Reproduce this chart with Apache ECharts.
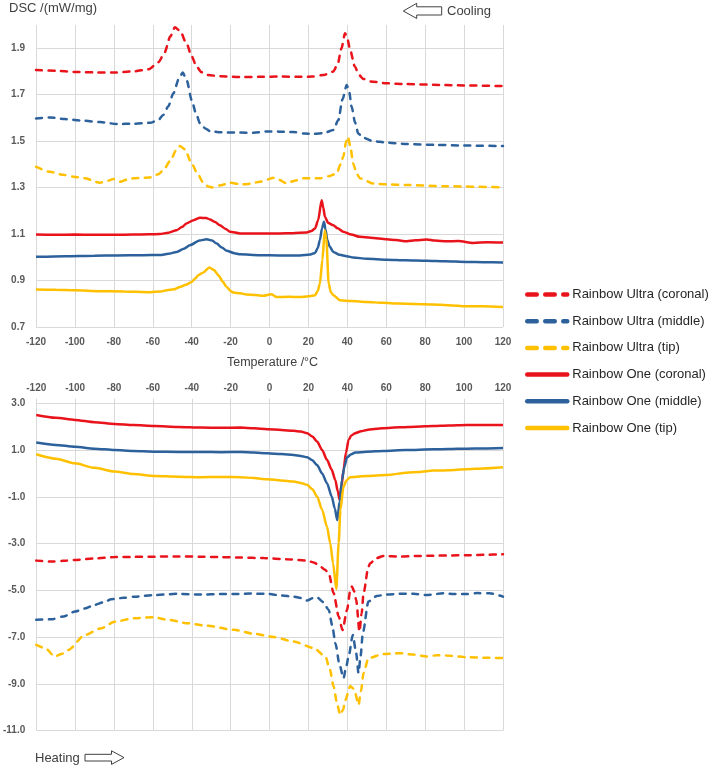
<!DOCTYPE html>
<html>
<head>
<meta charset="utf-8">
<script src="https://cdn.jsdelivr.net/npm/echarts@6/dist/echarts.min.js"></script>
<style>
  html, body { margin: 0; padding: 0; background: #fff; }
  #dsc { width: 709px; height: 768px; }
</style>
</head>
<body>
<div id="dsc"></div>
<script>
// 温度刻度
const tempTicks = [-120, -100, -80, -60, -40, -20, 0, 20, 40, 60, 80, 100, 120];
const seriesNames = ['Rainbow Ultra (coronal)', 'Rainbow Ultra (middle)', 'Rainbow Ultra (tip)',
  'Rainbow One (coronal)', 'Rainbow One (middle)', 'Rainbow One (tip)'];

// cooling (top panel), [T °C, DSC mW/mg]
const ultraCoronalCool = [[-120,1.806],[-110,1.803],[-100,1.798],[-90,1.796],[-80,1.795],[-70,1.800],[-62,1.810],[-57,1.840],[-54,1.880],[-51,1.950],[-48.6,1.990],[-46,1.975],[-42.6,1.920],[-40,1.865],[-37.4,1.820],[-35,1.797],[-32,1.785],[-25,1.779],[-15,1.776],[-5,1.777],[5,1.778],[15,1.777],[22,1.778],[28,1.785],[32.7,1.799],[35,1.830],[37,1.900],[38.8,1.965],[40.2,1.935],[41.4,1.893],[43.9,1.820],[46,1.785],[48.2,1.768],[52,1.757],[60,1.749],[70,1.746],[87.6,1.742],[100,1.740],[120,1.737]];
const ultraMiddleCool = [[-120,1.598],[-112.8,1.602],[-105,1.595],[-95.7,1.588],[-87,1.582],[-78.6,1.574],[-70,1.575],[-61.4,1.579],[-57,1.592],[-54.6,1.613],[-52,1.650],[-49.4,1.706],[-46.5,1.770],[-44.6,1.795],[-42.5,1.760],[-40,1.677],[-37.8,1.620],[-35.7,1.577],[-33,1.555],[-30.6,1.543],[-25,1.538],[-15,1.537],[-8,1.536],[-1.4,1.542],[5,1.541],[12.3,1.539],[18,1.533],[22.5,1.531],[28,1.535],[32.8,1.548],[35.4,1.591],[37.5,1.680],[39.7,1.742],[41,1.710],[42.2,1.648],[44,1.580],[45.6,1.533],[48,1.515],[53.3,1.500],[60,1.494],[70.5,1.488],[85,1.484],[100,1.481],[120,1.479]];
const ultraTipCool = [[-120,1.390],[-112.8,1.368],[-106,1.355],[-100.8,1.347],[-95,1.340],[-87.1,1.321],[-83,1.330],[-80.3,1.337],[-76.8,1.325],[-73,1.335],[-70,1.340],[-61.4,1.344],[-57,1.358],[-54.6,1.375],[-51,1.415],[-48,1.460],[-46,1.479],[-43.5,1.465],[-40,1.404],[-37,1.360],[-34,1.321],[-31.5,1.305],[-29.7,1.301],[-25,1.310],[-20.3,1.321],[-15,1.315],[-11.8,1.315],[-4.9,1.325],[-1,1.335],[1.9,1.342],[5,1.333],[8.8,1.318],[13,1.330],[17.4,1.340],[25.9,1.340],[31,1.350],[34.5,1.361],[36.5,1.400],[37.9,1.433],[39.3,1.495],[40.3,1.519],[41.5,1.480],[43,1.404],[44.8,1.360],[46.5,1.340],[53.3,1.318],[60,1.314],[70.5,1.311],[90,1.306],[120,1.301]];
const oneCoronalCool = [[-120,1.098],[-110,1.097],[-100,1.098],[-90,1.097],[-80,1.097],[-70,1.098],[-62,1.099],[-56.3,1.100],[-52,1.106],[-47.7,1.117],[-45,1.130],[-42.6,1.146],[-39,1.160],[-35.7,1.170],[-32.5,1.169],[-30.6,1.163],[-28,1.152],[-25.5,1.138],[-22.5,1.122],[-20.3,1.110],[-15.2,1.103],[-5,1.102],[5,1.103],[12,1.104],[19.1,1.107],[21.5,1.113],[23.4,1.124],[25,1.160],[26.8,1.246],[27.6,1.215],[28.5,1.174],[30.2,1.148],[32.8,1.138],[35,1.125],[37.9,1.110],[42,1.098],[46.5,1.088],[52,1.084],[60.2,1.078],[65,1.074],[70.5,1.069],[75,1.073],[80.8,1.077],[85,1.072],[91,1.069],[97,1.070],[104.7,1.062],[112,1.065],[120,1.064]];
const oneMiddleCool = [[-120,1.002],[-105,1.005],[-90,1.007],[-78.6,1.008],[-65,1.009],[-56.3,1.010],[-52,1.015],[-47.7,1.023],[-44,1.037],[-40.9,1.052],[-36,1.072],[-32.3,1.078],[-29.5,1.072],[-27.1,1.059],[-24.5,1.042],[-22,1.028],[-18,1.018],[-15.2,1.013],[-5,1.009],[5,1.008],[15.7,1.008],[21,1.012],[23.4,1.019],[24.8,1.040],[25.9,1.074],[27,1.125],[28,1.153],[28.8,1.120],[29.7,1.074],[31,1.045],[32.8,1.023],[36,1.011],[39.7,1.005],[43,0.999],[50,0.994],[60.2,0.990],[70,0.987],[80.8,0.985],[90,0.983],[101.3,0.980],[110,0.979],[120,0.978]];
const oneTipCool = [[-120,0.861],[-110,0.860],[-100,0.858],[-87.1,0.854],[-75,0.853],[-61.4,0.850],[-56,0.853],[-52.8,0.858],[-49,0.862],[-46,0.872],[-43,0.882],[-40,0.894],[-38,0.910],[-36.6,0.923],[-34,0.935],[-30.9,0.956],[-28.5,0.945],[-26.3,0.923],[-24,0.895],[-22,0.872],[-20,0.855],[-18.6,0.848],[-15,0.845],[-11.8,0.840],[-7,0.838],[-3.3,0.834],[1.1,0.841],[3.6,0.829],[10,0.830],[15.7,0.829],[20,0.832],[23.4,0.837],[24.8,0.855],[25.9,0.887],[27.2,0.990],[28.4,1.115],[29.2,1.080],[30.4,0.887],[31.5,0.850],[32.8,0.837],[36.2,0.815],[42,0.812],[49.9,0.808],[58,0.804],[67,0.801],[75,0.799],[84.2,0.797],[92,0.794],[101.3,0.789],[110,0.789],[120,0.786]];

// heating (bottom panel)
const ultraCoronalHeat = [[-120,-3.73],[-112.1,-3.77],[-106,-3.74],[-100.1,-3.70],[-90,-3.64],[-79.7,-3.58],[-70,-3.57],[-59.2,-3.56],[-47,-3.55],[-35.3,-3.56],[-25,-3.58],[-14.8,-3.60],[-3,-3.62],[9,-3.67],[19.3,-3.73],[23,-3.82],[26.1,-3.99],[28.5,-4.12],[30.4,-4.27],[32.9,-5.12],[35.5,-6.12],[37.5,-6.70],[39.8,-5.84],[41.5,-5.00],[42.3,-4.84],[43.5,-5.05],[44.5,-5.41],[46.2,-6.76],[47.3,-6.00],[48.3,-5.12],[50.8,-3.99],[51.7,-3.84],[55,-3.62],[58.5,-3.53],[67,-3.56],[75,-3.53],[84.1,-3.52],[92,-3.51],[101.2,-3.50],[110,-3.48],[120,-3.46]];
const ultraMiddleHeat = [[-120,-6.26],[-112.1,-6.24],[-106,-6.12],[-100.1,-5.91],[-95,-5.78],[-89.9,-5.62],[-85,-5.50],[-81.4,-5.38],[-75,-5.32],[-69.4,-5.27],[-59.2,-5.20],[-47.2,-5.15],[-35.3,-5.18],[-25,-5.16],[-18.3,-5.16],[-10,-5.14],[-1.2,-5.15],[6,-5.22],[12.4,-5.27],[16,-5.33],[19.3,-5.44],[22,-5.34],[24.4,-5.30],[27.5,-5.50],[30.4,-5.84],[32.2,-6.50],[33.8,-7.26],[36,-8.20],[38,-8.76],[39.3,-8.30],[40.6,-7.83],[42.8,-6.91],[44.5,-7.69],[45.7,-8.54],[46.8,-7.80],[47.9,-6.84],[50.8,-5.48],[55.1,-5.24],[60,-5.18],[67,-5.15],[74,-5.15],[80.7,-5.20],[89.2,-5.13],[95,-5.16],[101.2,-5.16],[107,-5.12],[113.1,-5.13],[120,-5.27]];
const ultraTipHeat = [[-120,-7.33],[-115.5,-7.47],[-110.4,-7.83],[-107,-7.72],[-103.5,-7.55],[-95,-6.91],[-86.5,-6.62],[-79.7,-6.34],[-69.4,-6.19],[-60,-6.15],[-52.3,-6.26],[-42.1,-6.41],[-31.9,-6.52],[-18.3,-6.69],[-8,-6.86],[2.2,-7.00],[12.4,-7.19],[22.7,-7.47],[28.7,-7.83],[31,-8.40],[32.9,-9.12],[34.8,-9.90],[36.3,-10.33],[37.8,-10.10],[38.9,-9.69],[41.5,-9.09],[43,-9.20],[44,-9.40],[45.7,-9.90],[47,-9.30],[48.3,-8.54],[50.8,-7.90],[58.5,-7.72],[67,-7.69],[74,-7.75],[80.7,-7.83],[86,-7.78],[91,-7.79],[101.2,-7.86],[110,-7.88],[120,-7.90]];
const oneCoronalHeat = [[-120,2.50],[-110,2.38],[-100.1,2.29],[-90,2.19],[-79.7,2.115],[-70,2.07],[-59.2,2.03],[-47,1.99],[-35.3,1.96],[-25,1.95],[-14.8,1.96],[-8,1.93],[-1.2,1.89],[6,1.86],[12.4,1.82],[16,1.79],[19.3,1.72],[22,1.58],[24.4,1.36],[27,1.00],[29.5,0.58],[31.8,0.18],[33.8,-0.28],[35,-0.75],[36,-1.13],[37,-0.50],[38,0.15],[39.3,0.90],[40.6,1.43],[42,1.62],[44,1.72],[47,1.80],[50,1.86],[58,1.93],[67,1.97],[75,2.00],[84.1,2.03],[92,2.05],[101.2,2.07],[110,2.07],[120,2.07]];
const oneMiddleHeat = [[-120,1.32],[-110,1.22],[-100.1,1.14],[-90,1.06],[-79.7,1.00],[-70,0.96],[-59.2,0.93],[-47,0.92],[-35.3,0.92],[-25,0.91],[-14.8,0.92],[-8,0.89],[-1.2,0.86],[6,0.83],[12.4,0.79],[16,0.75],[19.3,0.69],[22,0.56],[24.4,0.36],[27,0.00],[29.5,-0.42],[32,-1.00],[33.5,-1.50],[34.8,-2.00],[36,-1.20],[37.2,-0.28],[38.5,0.30],[39.8,0.69],[42,0.82],[44,0.89],[50,0.93],[58.5,0.96],[70,1.00],[84.1,1.03],[92,1.04],[101.2,1.06],[110,1.07],[120,1.09]];
const oneTipHeat = [[-120,0.82],[-110,0.63],[-100.1,0.43],[-90,0.24],[-79.7,0.08],[-70,-0.03],[-59.2,-0.11],[-47,-0.14],[-35.3,-0.16],[-25,-0.15],[-14.8,-0.16],[-8,-0.20],[-1.2,-0.25],[6,-0.30],[12.4,-0.35],[16,-0.41],[19.3,-0.49],[22,-0.68],[24.4,-0.99],[27,-1.55],[29.5,-2.28],[31.2,-3.00],[32.6,-3.84],[34.3,-4.95],[35.5,-2.97],[36.4,-1.56],[38,-0.56],[39.5,-0.30],[41.4,-0.16],[45,-0.14],[50,-0.11],[60.2,-0.07],[70.5,0.03],[77,0.06],[84.1,0.12],[92,0.14],[101.2,0.18],[110,0.21],[120,0.26]];

const RED = '#E8131B', BLUE = '#2C619C', YELLOW = '#FFC000';
const colors = [RED, BLUE, YELLOW, RED, BLUE, YELLOW];
const coolData = [ultraCoronalCool, ultraMiddleCool, ultraTipCool, oneCoronalCool, oneMiddleCool, oneTipCool];
const heatData = [ultraCoronalHeat, ultraMiddleHeat, ultraTipHeat, oneCoronalHeat, oneMiddleHeat, oneTipHeat];

const axisLabelStyle = { color: '#595959', fontSize: 10, fontWeight: 'bold', fontFamily: 'Liberation Sans' };
const gridLine = { show: true, lineStyle: { color: '#D9D9D9', width: 1 } };

function makeSeries(data, i, idx) {
  const dashed = i < 3;
  return {
    name: seriesNames[i],
    type: 'line',
    xAxisIndex: idx,
    yAxisIndex: idx,
    data: data,
    symbol: 'none',
    smooth: 0.25,
    smoothMonotone: 'x',
    lineStyle: {
      color: colors[i],
      width: 2.5,
      type: dashed ? [6, 6.5] : 'solid',
      cap: dashed ? 'round' : 'butt'
    },
    itemStyle: { color: colors[i] }
  };
}

const series = [];
coolData.forEach((d, i) => series.push(makeSeries(d, i, 0)));
heatData.forEach((d, i) => series.push(makeSeries(d, i, 1)));

const chart = echarts.init(document.getElementById('dsc'));
chart.setOption({
  animation: false,
  backgroundColor: '#fff',
  grid: [
    { left: 36, right: 206, top: 25, height: 302 },
    { left: 35, right: 206, top: 398.6, height: 332 }
  ],
  xAxis: [
    { type: 'value', gridIndex: 0, min: -120, max: 120, interval: 20, position: 'bottom',
      axisLine: { show: false }, axisTick: { show: false },
      axisLabel: Object.assign({ margin: 10 }, axisLabelStyle), splitLine: gridLine },
    { type: 'value', gridIndex: 1, min: -120, max: 120, interval: 20, position: 'top',
      axisLine: { show: false }, axisTick: { show: false },
      axisLabel: Object.assign({ margin: 5 }, axisLabelStyle), splitLine: gridLine }
  ],
  yAxis: [
    { type: 'value', gridIndex: 0, min: 0.7, max: 2.0, interval: 0.2,
      axisLine: { show: false }, axisTick: { show: false },
      axisLabel: Object.assign({ margin: 11, showMaxLabel: false, formatter: v => v.toFixed(1) }, axisLabelStyle),
      splitLine: Object.assign({ showMaxLine: false }, gridLine) },
    { type: 'value', gridIndex: 1, min: -11, max: 3.2, interval: 2,
      axisLine: { show: false }, axisTick: { show: false },
      axisLabel: Object.assign({ margin: 11, showMaxLabel: false, formatter: v => v.toFixed(1) }, axisLabelStyle),
      splitLine: Object.assign({ showMaxLine: false }, gridLine) }
  ],
  legend: {
    orient: 'vertical',
    left: 520,
    top: 283,
    itemWidth: 40,
    itemHeight: 14,
    itemGap: 13.7,
    padding: 5,
    textStyle: { color: '#262626', fontSize: 13, fontFamily: 'Liberation Sans' },
    data: seriesNames.map((n, i) => ({
      name: n,
      itemStyle: { opacity: 0 },
      lineStyle: i < 3
        ? { width: 4.5, type: [9.5, 8.5], cap: 'round', color: colors[i] }
        : { width: 4.5, type: 'solid', cap: 'round', color: colors[i] }
    }))
  },
  graphic: [
    { type: 'text', x: 9, y: 8, style: { text: 'DSC /(mW/mg)', fontSize: 13, fontFamily: 'Liberation Sans', fill: '#404040', verticalAlign: 'middle' } },
    { type: 'text', x: 447, y: 11, style: { text: 'Cooling', fontSize: 13, fontFamily: 'Liberation Sans', fill: '#404040', verticalAlign: 'middle' } },
    { type: 'polygon', shape: { points: [[403.3, 11], [416.7, 3.3], [416.7, 6.8], [441.7, 6.8], [441.7, 15], [416.7, 15], [416.7, 18.5]] },
      style: { fill: '#fff', stroke: '#404040', lineWidth: 1 } },
    { type: 'text', x: 227, y: 363, style: { text: 'Temperature /°C', fontSize: 12.5, fontFamily: 'Liberation Sans', fill: '#404040', verticalAlign: 'middle' } },
    { type: 'text', x: 35, y: 758, style: { text: 'Heating', fontSize: 13, fontFamily: 'Liberation Sans', fill: '#404040', verticalAlign: 'middle' } },
    { type: 'polygon', shape: { points: [[85, 754.3], [111.5, 754.3], [111.5, 750.8], [124, 757.6], [111.5, 764.4], [111.5, 761], [85, 761]] },
      style: { fill: '#fff', stroke: '#404040', lineWidth: 1 } }
  ],
  series: series
});
</script>
</body>
</html>
